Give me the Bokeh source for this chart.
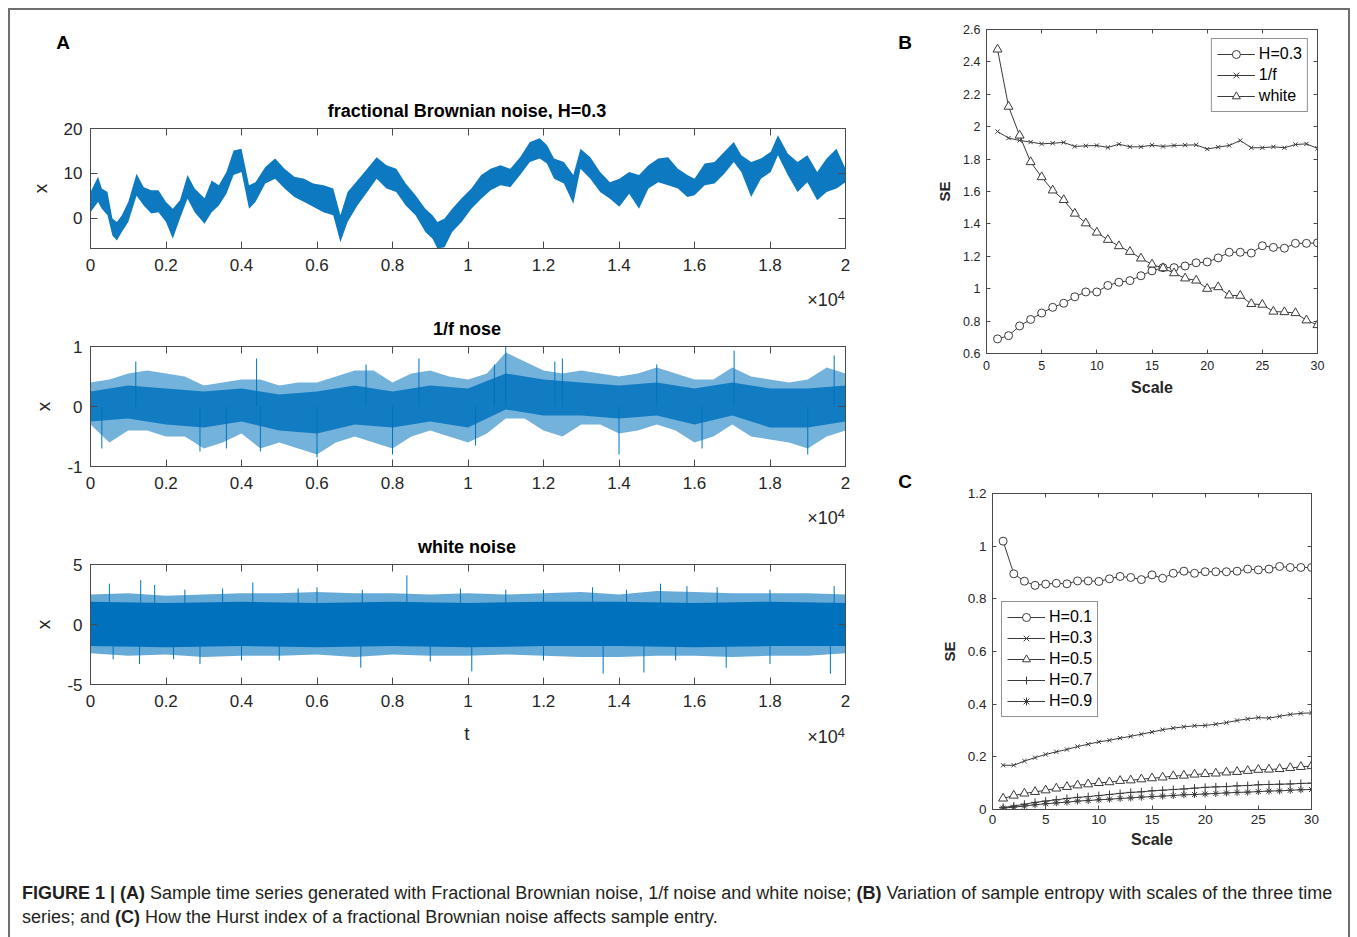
from bokeh.plotting import figure
from bokeh.layouts import column, row
from bokeh.models import (LinearAxis, FixedTicker, CustomJSTickFormatter,
                          Legend, LegendItem, Div, Range1d)
from bokeh.embed import file_html
from bokeh.resources import INLINE

FONT = "Liberation Sans"
BLUE = "#0072BD"
AXC = "#4a4a4a"
TXT = "#262626"
MK = "#3a3a3a"

# ---------------- Panel A data (t in units of 1e4 samples) ----------------
fbn_t = [0, 0.02, 0.03, 0.045, 0.058, 0.07, 0.083, 0.1, 0.122, 0.141, 0.161, 0.18, 0.2,
         0.218, 0.237, 0.257, 0.276, 0.302, 0.321, 0.34, 0.36, 0.379, 0.4, 0.42, 0.437,
         0.463, 0.489, 0.514, 0.54, 0.566, 0.59, 0.617, 0.643, 0.662, 0.681, 0.707, 0.733,
         0.758, 0.784, 0.81, 0.835, 0.861, 0.887, 0.906, 0.919, 0.938, 0.958, 0.983, 1.009,
         1.035, 1.06, 1.086, 1.112, 1.138, 1.164, 1.19, 1.209, 1.228, 1.254, 1.279, 1.298,
         1.324, 1.35, 1.376, 1.401, 1.427, 1.453, 1.478, 1.504, 1.53, 1.556, 1.581, 1.6,
         1.627, 1.653, 1.679, 1.704, 1.724, 1.75, 1.776, 1.802, 1.821, 1.847, 1.873, 1.899,
         1.925, 1.95, 1.976, 2.0]
fbn_up = [5.8, 9.2, 6.6, 5.8, -0.1, -0.9, 0.6, 3.6, 9.9, 6.9, 6.2, 6.2, 3.6, 2.1, 4.0, 9.6,
          6.6, 4.4, 8.4, 7.3, 10.3, 15.1, 15.5, 7.3, 8.0, 11.4, 13.3, 11.0, 9.2, 8.8, 7.7,
          7.3, 6.6, 0.6, 5.8, 8.4, 11.0, 13.6, 11.8, 11.0, 7.7, 5.1, 2.1, 0.6, -0.9, -0.1,
          2.1, 4.4, 6.6, 9.6, 11.0, 11.8, 11.0, 13.6, 17.0, 17.8, 16.3, 13.3, 12.5, 9.6, 15.5,
          13.6, 10.3, 8.0, 8.8, 10.3, 9.6, 11.8, 13.3, 13.6, 11.0, 9.6, 8.8, 12.2, 12.5, 14.8,
          17.0, 14.0, 12.5, 13.3, 14.8, 18.5, 14.4, 12.5, 14.0, 10.3, 13.3, 15.5, 11.0]
fbn_lo = [1.3, 3.6, 2.1, 0.6, -3.9, -5.0, -3.1, -0.9, 5.0, 2.8, 1.0, 1.3, -0.9, -4.6, -0.1,
          4.3, 1.3, -1.3, 1.3, 2.8, 5.4, 9.6, 10.3, 2.1, 3.6, 7.7, 8.8, 6.6, 4.7, 3.6, 2.5,
          1.3, 0.6, -5.4, -0.9, 2.8, 5.8, 8.8, 6.6, 5.8, 2.8, 0.6, -3.1, -4.6, -6.8, -6.5,
          -3.1, -0.9, 2.1, 4.3, 6.2, 7.3, 6.9, 9.6, 12.5, 13.3, 12.2, 8.8, 7.7, 3.2, 11.0,
          8.8, 5.8, 4.3, 2.5, 5.4, 2.1, 6.6, 8.0, 7.3, 6.6, 4.7, 5.1, 7.3, 7.7, 9.9, 12.5,
          10.3, 4.7, 8.8, 10.3, 14.0, 9.6, 5.8, 8.0, 4.0, 5.8, 6.6, 8.0]

pink_t = [0, 0.05, 0.1, 0.15, 0.2, 0.25, 0.3, 0.35, 0.4, 0.45, 0.5, 0.55, 0.6, 0.65, 0.7,
          0.75, 0.8, 0.85, 0.9, 0.95, 1.0, 1.05, 1.1, 1.15, 1.2, 1.25, 1.3, 1.35, 1.4, 1.45,
          1.5, 1.55, 1.6, 1.65, 1.7, 1.75, 1.8, 1.85, 1.9, 1.95, 2.0]
pink_up = [0.4, 0.45, 0.55, 0.6, 0.55, 0.5, 0.35, 0.4, 0.45, 0.45, 0.35, 0.4, 0.4, 0.5, 0.6,
           0.6, 0.4, 0.55, 0.6, 0.5, 0.45, 0.55, 0.9, 0.75, 0.6, 0.55, 0.6, 0.55, 0.5, 0.55,
           0.65, 0.55, 0.45, 0.45, 0.65, 0.5, 0.45, 0.4, 0.45, 0.65, 0.55]
pink_lo = [-0.3, -0.6, -0.4, -0.4, -0.5, -0.5, -0.7, -0.6, -0.45, -0.7, -0.6, -0.7, -0.8,
           -0.6, -0.5, -0.6, -0.7, -0.5, -0.4, -0.5, -0.6, -0.45, -0.2, -0.2, -0.4, -0.5, -0.3,
           -0.3, -0.45, -0.4, -0.3, -0.4, -0.6, -0.5, -0.3, -0.5, -0.55, -0.6, -0.7, -0.5, -0.4]
pink_core_t = [0, 0.1, 0.2, 0.3, 0.4, 0.5, 0.6, 0.7, 0.8, 0.9, 1.0, 1.1, 1.2, 1.3, 1.4, 1.5,
               1.6, 1.7, 1.8, 1.9, 2.0]
pink_core_up = [0.25, 0.35, 0.3, 0.25, 0.3, 0.2, 0.25, 0.35, 0.25, 0.35, 0.3, 0.55, 0.45,
                0.4, 0.35, 0.4, 0.3, 0.4, 0.3, 0.3, 0.35]
pink_core_lo = [-0.25, -0.2, -0.3, -0.35, -0.25, -0.4, -0.45, -0.3, -0.35, -0.25, -0.35,
                -0.05, -0.15, -0.15, -0.2, -0.15, -0.3, -0.15, -0.35, -0.35, -0.25]
pink_spike_t = [1.1, 1.705, 1.97, 0.44, 0.87, 0.12, 1.23, 1.5, 1.25, 0.73, 1.07,
                0.6, 1.9, 0.29, 0.03, 0.45, 0.8, 1.4, 1.62, 1.02, 0.36]
pink_spike_v = [1.0, 0.93, 0.85, 0.8, 0.8, 0.75, 0.75, 0.7, 0.8, 0.7, 0.7,
                -0.85, -0.8, -0.75, -0.7, -0.75, -0.8, -0.8, -0.7, -0.65, -0.7]

white_t = [0, 0.1, 0.2, 0.3, 0.4, 0.5, 0.6, 0.7, 0.8, 0.9, 1.0, 1.1, 1.2, 1.3, 1.4, 1.5, 1.6,
           1.7, 1.8, 1.9, 2.0]
white_up = [2.5, 2.6, 2.4, 2.5, 2.6, 2.6, 2.7, 2.6, 2.6, 2.5, 2.6, 2.5, 2.6, 2.7, 2.5, 2.8,
            2.7, 2.6, 2.6, 2.6, 2.5]
white_lo = [-2.4, -2.6, -2.5, -2.7, -2.6, -2.6, -2.5, -2.7, -2.5, -2.6, -2.6, -2.5, -2.6,
            -2.7, -2.7, -2.6, -2.6, -2.7, -2.6, -2.6, -2.4]
white_core_t = [0, 0.2, 0.4, 0.6, 0.8, 1.0, 1.2, 1.4, 1.6, 1.8, 2.0]
white_core_up = [1.9, 1.8, 1.9, 1.8, 1.9, 1.8, 1.9, 1.9, 1.8, 1.9, 1.8]
white_core_lo = [-1.8, -1.9, -1.8, -1.9, -1.8, -1.9, -1.8, -1.8, -1.9, -1.8, -1.8]
white_spike_t = [0.05, 0.133, 0.17, 0.43, 0.6, 0.838, 0.98, 1.33, 1.51, 1.58, 1.66, 1.97,
                 0.25, 0.72, 1.2, 1.8, 1.42, 0.35, 1.1, 0.55,
                 0.13, 0.29, 0.5, 0.716, 1.01, 1.358, 1.466, 1.684, 1.96, 0.9, 1.2, 1.8, 0.4,
                 0.06, 1.55, 0.22]
white_spike_v = [3.4, 3.7, 3.3, 3.5, 3.1, 4.1, 3.0, 3.1, 3.4, 3.2, 3.1, 3.2,
                 2.9, 2.9, 2.9, 2.9, 2.9, 3.0, 2.9, 3.0,
                 -3.3, -3.3, -3.0, -3.6, -3.9, -4.1, -4.0, -3.6, -4.1, -3.1, -3.0, -3.3, -3.0,
                 -2.9, -3.0, -2.9]

a_xticks = [0, 0.2, 0.4, 0.6, 0.8, 1, 1.2, 1.4, 1.6, 1.8, 2]
a1_yticks = [0, 10, 20]
a2_yticks = [-1, 0, 1]
a3_yticks = [-5, 0, 5]

# ---------------- Panel B data ----------------
scale = list(range(1, 31))
b_h03 = [0.69, 0.71, 0.77, 0.81, 0.85, 0.885, 0.91, 0.95, 0.98, 0.98, 1.02, 1.04, 1.05, 1.08,
         1.11, 1.13, 1.13, 1.14, 1.16, 1.165, 1.19, 1.225, 1.225, 1.22, 1.265, 1.255, 1.25,
         1.28, 1.28, 1.283]
b_pink = [1.97, 1.93, 1.915, 1.905, 1.894, 1.898, 1.903, 1.878, 1.882, 1.884, 1.872, 1.892,
          1.876, 1.876, 1.886, 1.878, 1.884, 1.886, 1.888, 1.862, 1.874, 1.884, 1.915, 1.870,
          1.870, 1.876, 1.870, 1.890, 1.894, 1.866]
b_white = [2.477, 2.124, 1.946, 1.782, 1.689, 1.607, 1.548, 1.464, 1.404, 1.347, 1.302,
           1.263, 1.228, 1.187, 1.15, 1.127, 1.096, 1.064, 1.051, 1.0, 1.01, 0.959, 0.957,
           0.906, 0.902, 0.859, 0.856, 0.85, 0.805, 0.776]
b_xticks = [0, 5, 10, 15, 20, 25, 30]
b_yticks = [0.6, 0.8, 1, 1.2, 1.4, 1.6, 1.8, 2, 2.2, 2.4, 2.6]

# ---------------- Panel C data ----------------
c_h01 = [1.019, 0.895, 0.867, 0.851, 0.856, 0.859, 0.857, 0.868, 0.868, 0.866, 0.876, 0.885,
         0.881, 0.873, 0.891, 0.878, 0.897, 0.905, 0.897, 0.903, 0.903, 0.903, 0.905, 0.913,
         0.910, 0.913, 0.923, 0.919, 0.919, 0.919]
c_h03 = [0.168, 0.168, 0.184, 0.197, 0.209, 0.219, 0.228, 0.239, 0.248, 0.257, 0.263, 0.271,
         0.278, 0.286, 0.294, 0.303, 0.309, 0.314, 0.318, 0.319, 0.324, 0.330, 0.338, 0.344,
         0.349, 0.347, 0.354, 0.361, 0.365, 0.367]
c_h05 = [0.042, 0.053, 0.061, 0.067, 0.073, 0.08, 0.086, 0.092, 0.096, 0.101, 0.104, 0.109,
         0.111, 0.115, 0.119, 0.122, 0.127, 0.129, 0.133, 0.135, 0.137, 0.141, 0.143, 0.147,
         0.151, 0.152, 0.154, 0.158, 0.162, 0.165]
c_h07 = [0.008, 0.013, 0.02, 0.027, 0.032, 0.037, 0.042, 0.046, 0.049, 0.053, 0.057, 0.061,
         0.065, 0.067, 0.071, 0.073, 0.076, 0.078, 0.081, 0.084, 0.086, 0.087, 0.09, 0.091,
         0.094, 0.095, 0.096, 0.097, 0.099, 0.1]
c_h09 = [0.005, 0.009, 0.013, 0.018, 0.022, 0.025, 0.028, 0.032, 0.034, 0.037, 0.039, 0.042,
         0.044, 0.047, 0.049, 0.051, 0.053, 0.056, 0.057, 0.059, 0.061, 0.063, 0.065, 0.066,
         0.068, 0.07, 0.071, 0.073, 0.075, 0.076]
c_xticks = [0, 5, 10, 15, 20, 25, 30]
c_yticks = [0, 0.2, 0.4, 0.6, 0.8, 1, 1.2]

FMT = "return String(Math.round(tick*1000)/1000);"


def style_axis(ax, ticks, fs, tlen, standoff, show=True):
    ax.ticker = FixedTicker(ticks=ticks)
    ax.formatter = CustomJSTickFormatter(code=FMT)
    ax.major_tick_in = tlen
    ax.major_tick_out = 0
    ax.minor_tick_line_color = None
    ax.axis_line_color = AXC
    ax.major_tick_line_color = AXC
    ax.major_label_text_font = FONT
    ax.major_label_text_color = TXT
    ax.major_label_standoff = standoff
    ax.axis_label_text_font = FONT
    ax.axis_label_text_color = TXT
    if not show:
        ax.major_label_text_font_size = "0px"
        ax.major_label_text_alpha = 0
    else:
        ax.major_label_text_font_size = fs


def make_fig(xr, yr, fw, fh, bl, br, bt, bb, xt, yt, fs, tlen, xso, yso):
    p = figure(width=bl + fw + br, height=bt + fh + bb, frame_width=fw, frame_height=fh,
               x_range=Range1d(*xr), y_range=Range1d(*yr),
               min_border_left=bl, min_border_right=br, min_border_top=bt,
               min_border_bottom=bb, output_backend="svg", toolbar_location=None,
               background_fill_color="white", border_fill_color="white")
    p.xgrid.visible = False
    p.ygrid.visible = False
    p.outline_line_color = AXC
    xb, yl = p.xaxis[0], p.yaxis[0]
    style_axis(xb, xt, fs, tlen, xso)
    style_axis(yl, yt, fs, tlen, yso)
    top, right = LinearAxis(), LinearAxis()
    style_axis(top, xt, fs, tlen, 0, show=False)
    style_axis(right, yt, fs, tlen, 0, show=False)
    p.add_layout(top, "above")
    p.add_layout(right, "right")
    return p, xb, yl


def set_label(ax, text, size, style, standoff):
    ax.axis_label = text
    ax.axis_label_text_font_size = size
    ax.axis_label_text_font_style = style
    ax.axis_label_standoff = standoff


def text_div(w, h, items):
    """items: (x, y, text, size_px, bold, anchor) with x,y the anchor point in px."""
    spans = []
    for x, y, text, size, bold, anchor in items:
        tx = {"center": "-50%", "right": "-100%", "left": "0"}[anchor]
        spans.append(
            f'<span style="position:absolute;left:{x}px;top:{y}px;'
            f'transform:translate({tx},-50%);white-space:nowrap;font-size:{size}px;'
            f'font-weight:{"bold" if bold else "normal"};'
            f'color:{"#000" if bold else TXT};line-height:1;">{text}</span>')
    html = (f'<div style="position:relative;width:{w}px;height:{h}px;'
            f"font-family:'Liberation Sans',Arial,sans-serif;\">" + "".join(spans) + "</div>")
    return Div(text=html, width=w, height=h, margin=0, styles={"overflow": "visible"})


X104 = "&times;10<sup style=\"font-size:0.72em;vertical-align:0.45em;line-height:0\">4</sup>"

# ---------------- Panel A ----------------
AFS = "17px"
a1, a1x, a1y = make_fig((0, 2), (-6.8, 20), 755, 120, 80, 35, 10, 32, a_xticks, a1_yticks,
                        AFS, 7, 10, 8)
a1.varea(x=fbn_t, y1=fbn_lo, y2=fbn_up, fill_color=BLUE, fill_alpha=0.95)
set_label(a1y, "x", "19px", "normal", 10)

a2, a2x, a2y = make_fig((0, 2), (-1, 1), 755, 120, 80, 35, 8, 32, a_xticks, a2_yticks,
                        AFS, 7, 10, 8)
a2.varea(x=pink_t, y1=pink_lo, y2=pink_up, fill_color=BLUE, fill_alpha=0.55)
a2.varea(x=pink_core_t, y1=pink_core_lo, y2=pink_core_up, fill_color=BLUE, fill_alpha=0.85)
a2.segment(x0=pink_spike_t, y0=[0] * len(pink_spike_t), x1=pink_spike_t, y1=pink_spike_v,
           line_color=BLUE, line_width=1)
set_label(a2y, "x", "19px", "normal", 10)

a3, a3x, a3y = make_fig((0, 2), (-5, 5), 755, 120, 80, 35, 8, 32, a_xticks, a3_yticks,
                        AFS, 7, 10, 8)
a3.varea(x=white_t, y1=white_lo, y2=white_up, fill_color=BLUE, fill_alpha=0.6)
a3.varea(x=white_core_t, y1=white_core_lo, y2=white_core_up, fill_color=BLUE, fill_alpha=1.0)
a3.segment(x0=white_spike_t, y0=[0] * len(white_spike_t), x1=white_spike_t,
           y1=white_spike_v, line_color=BLUE, line_width=1)
set_label(a3y, "x", "19px", "normal", 10)

d_top = text_div(870, 108, [(53, 32, "A", 19, True, "center"),
                            (457, 101, "fractional Brownian noise, H=0.3", 18, True, "center")])
d_a1 = text_div(870, 58, [(835, 20, X104, 18, False, "right"),
                          (457, 49, "1/f nose", 18, True, "center")])
d_a2 = text_div(870, 58, [(835, 20, X104, 18, False, "right"),
                          (457, 49, "white noise", 18, True, "center")])
d_a3 = text_div(870, 44, [(457, 17, "t", 19, False, "center"),
                          (835, 21, X104, 18, False, "right")])

# ---------------- Panel B ----------------
b, bx, by = make_fig((0, 30), (0.6, 2.6), 331, 324, 56, 31, 19, 117, b_xticks, b_yticks,
                     "12.5px", 4, 7, 6)
set_label(by, "SE", "15px", "bold", 7)
set_label(bx, "Scale", "16px", "bold", 6)
bl1 = b.line(scale, b_h03, line_color=MK, line_width=1)
bs1 = b.scatter(scale, b_h03, marker="circle", size=8, line_color=MK, fill_color="white")
bl2 = b.line(scale, b_pink, line_color=MK, line_width=1)
bs2 = b.scatter(scale, b_pink, marker="x", size=6, line_color=MK)
bl3 = b.line(scale, b_white, line_color=MK, line_width=1)
bs3 = b.scatter(scale, b_white, marker="triangle", size=9, line_color=MK, fill_color="white")
leg_b = Legend(items=[LegendItem(label="H=0.3", renderers=[bl1, bs1]),
                      LegendItem(label="1/f", renderers=[bl2, bs2]),
                      LegendItem(label="white", renderers=[bl3, bs3])],
               location="top_right", margin=9, padding=5, spacing=1,
               glyph_width=38, glyph_height=20, label_height=20, label_standoff=4,
               label_text_font=FONT, label_text_font_size="16px", label_text_color="black",
               border_line_color=TXT, border_line_width=1, background_fill_alpha=1)
b.add_layout(leg_b)

# ---------------- Panel C ----------------
c, cx, cy = make_fig((0, 30), (0, 1.2), 319, 316, 62, 37, 23, 51, c_xticks, c_yticks,
                     "13.5px", 4, 5, 6)
set_label(cy, "SE", "15px", "bold", 7)
set_label(cx, "Scale", "16px", "bold", 4)
cl1 = c.line(scale, c_h01, line_color=MK, line_width=1)
cs1 = c.scatter(scale, c_h01, marker="circle", size=8, line_color=MK, fill_color="white")
cl2 = c.line(scale, c_h03, line_color=MK, line_width=1)
cs2 = c.scatter(scale, c_h03, marker="x", size=6, line_color=MK)
cl3 = c.line(scale, c_h05, line_color=MK, line_width=1)
cs3 = c.scatter(scale, c_h05, marker="triangle", size=9, line_color=MK, fill_color="white")
cl4 = c.line(scale, c_h07, line_color=MK, line_width=1)
cs4 = c.scatter(scale, c_h07, marker="cross", size=8, line_color=MK)
cl5 = c.line(scale, c_h09, line_color=MK, line_width=1)
cs5 = c.scatter(scale, c_h09, marker="asterisk", size=7, line_color=MK)
leg_c = Legend(items=[LegendItem(label="H=0.1", renderers=[cl1, cs1]),
                      LegendItem(label="H=0.3", renderers=[cl2, cs2]),
                      LegendItem(label="H=0.5", renderers=[cl3, cs3]),
                      LegendItem(label="H=0.7", renderers=[cl4, cs4]),
                      LegendItem(label="H=0.9", renderers=[cl5, cs5])],
               location=(9, 92), margin=0, padding=5, spacing=1,
               glyph_width=38, glyph_height=20, label_height=20, label_standoff=4,
               label_text_font=FONT, label_text_font_size="16px", label_text_color="black",
               border_line_color=TXT, border_line_width=1, background_fill_alpha=1)
c.add_layout(leg_c)

d_letters = text_div(50, 850, [(25, 32, "B", 19, True, "center"),
                               (25, 471, "C", 19, True, "center")])

# ---------------- Caption ----------------
caption = Div(
    text=("<div style=\"font-family:'Liberation Sans',Arial,sans-serif;font-size:18px;"
          "line-height:24px;padding:21px 0 0 12px;white-space:nowrap;color:#231f20;\">"
          "<b>FIGURE 1 | (A)</b> Sample time series generated with Fractional Brownian noise, "
          "1/f noise and white noise; <b>(B)</b> Variation of sample entropy with scales of "
          "the three time<br>series; and <b>(C)</b> How the Hurst index of a fractional "
          "Brownian noise affects sample entry.</div>"),
    width=1338, height=77, margin=0)

left = column(d_top, a1, d_a1, a2, d_a2, a3, d_a3, spacing=0)
right_figs = column(row(b), row(c), spacing=0)
right = row(d_letters, right_figs, spacing=0)
main = row(left, right, spacing=0)
root = column(main, caption, spacing=0, margin=(8, 0, 0, 8),
              styles={"border": "2px solid #6e6e6e", "border-bottom": "none"})

open("out.html", "w").write(file_html(root, INLINE))
